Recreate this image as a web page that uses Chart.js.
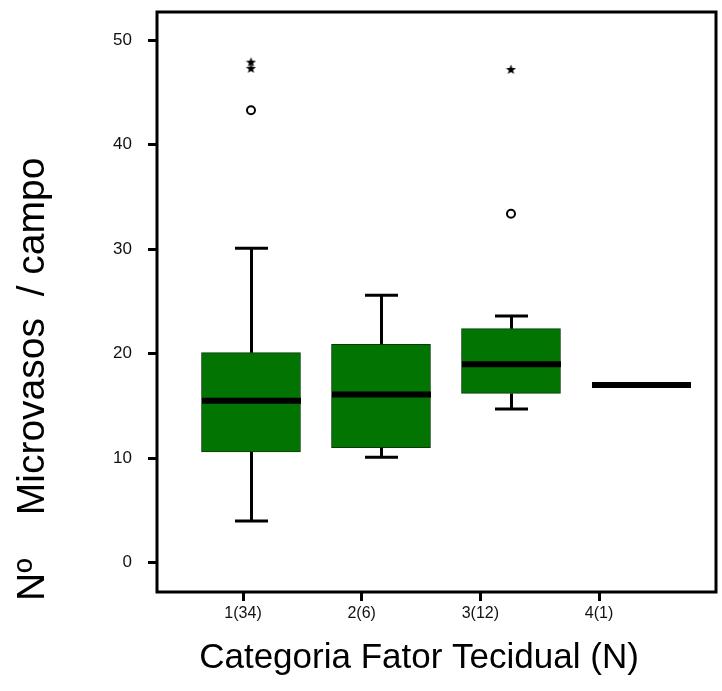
<!DOCTYPE html>
<html>
<head>
<meta charset="utf-8">
<script src="https://cdn.jsdelivr.net/npm/chart.js@4"></script>
<style>
  html, body { margin: 0; background: #fff; }
</style>
</head>
<body>
<canvas id="chart" width="722" height="691"></canvas>
<script>
// values
const categories = ['1(34)', '2(6)', '3(12)', '4(1)'];
const whiskerLow = [4.0, 10.1, 14.7, 17.0];
const q1 = [10.6, 11.0, 16.2, 17.0];
const median = [15.5, 16.1, 19.0, 17.0];
const q3 = [20.1, 20.9, 22.4, 17.0];
const whiskerHigh = [30.1, 25.6, 23.6, 17.0];
const outliers = [[43.3], [], [33.4], []];
const extremes = [[47.3, 47.9], [], [47.2], []];
const yTicks = [0, 10, 20, 30, 40, 50];

const xTitle = 'Categoria Fator Tecidual (N)';
const yTitle = 'Nº    Microvasos  / campo';
const FONT = 'Liberation Sans, Arial, sans-serif';

// filled star used for the extreme values
const star = document.createElement('canvas');
star.width = 11; star.height = 11;
(function () {
    const c = star.getContext('2d');
    c.fillStyle = '#000';
    c.beginPath();
    for (let k = 0; k < 10; k++) {
        const r = k % 2 === 0 ? 5.3 : 2.2;
        const a = -Math.PI / 2 + k * Math.PI / 5;
        c.lineTo(5.5 + r * Math.cos(a), 5.8 + r * Math.sin(a));
    }
    c.closePath();
    c.fill();
})();

const toPoints = (groups) => groups.flatMap((vals, i) => vals.map(v => ({ x: i + 1, y: v })));

// whiskers, caps, medians, frame and axis titles
const boxExtras = {
    id: 'boxExtras',
    afterDatasetsDraw(chart) {
        const ctx = chart.ctx;
        const xs = chart.scales.x, ys = chart.scales.y;
        const bars = chart.getDatasetMeta(0).data;
        ctx.save();
        ctx.strokeStyle = '#000';
        ctx.lineCap = 'butt';
        categories.forEach((c, i) => {
            const px = Math.round(xs.getPixelForValue(i + 1)) + 0.5;
            const half = bars[i].width / 2;
            ctx.lineWidth = 3;
            if (whiskerHigh[i] > q3[i]) {
                const top = ys.getPixelForValue(whiskerHigh[i]);
                ctx.beginPath();
                ctx.moveTo(px, ys.getPixelForValue(q3[i]));
                ctx.lineTo(px, top);
                ctx.moveTo(px - 16.5, top);
                ctx.lineTo(px + 16.5, top);
                ctx.stroke();
            }
            if (whiskerLow[i] < q1[i]) {
                const bot = ys.getPixelForValue(whiskerLow[i]);
                ctx.beginPath();
                ctx.moveTo(px, ys.getPixelForValue(q1[i]));
                ctx.lineTo(px, bot);
                ctx.moveTo(px - 16.5, bot);
                ctx.lineTo(px + 16.5, bot);
                ctx.stroke();
            }
            ctx.lineWidth = 6;
            const my = ys.getPixelForValue(median[i]);
            ctx.beginPath();
            ctx.moveTo(px - half, my);
            ctx.lineTo(px + half, my);
            ctx.stroke();
        });
        const a = chart.chartArea;
        ctx.lineWidth = 3;
        ctx.strokeRect(a.left, a.top, a.right - a.left, a.bottom - a.top);

        // axis titles
        ctx.fillStyle = '#000';
        ctx.textBaseline = 'middle';
        ctx.font = '35px ' + FONT;
        ctx.textAlign = 'center';
        ctx.fillText(xTitle, 419, 658);
        ctx.translate(33, 601);
        ctx.rotate(-Math.PI / 2);
        ctx.font = '39px ' + FONT;
        ctx.textAlign = 'left';
        ctx.fillText(yTitle, 0, 0);
        ctx.restore();
    }
};

new Chart(document.getElementById('chart'), {
    data: {
        datasets: [
            {
                type: 'bar',
                data: categories.map((c, i) => ({ x: i + 1, y: [q1[i], q3[i]] })),
                backgroundColor: '#017401',
                borderColor: '#0a3a0a',
                borderWidth: 1,
                borderSkipped: false,
                barThickness: 99,
                xAxisID: 'x'
            },
            {
                type: 'scatter',
                data: toPoints(outliers),
                pointStyle: 'circle',
                pointRadius: 4,
                pointBorderWidth: 2,
                pointBorderColor: '#000',
                pointBackgroundColor: '#fff',
                xAxisID: 'x'
            },
            {
                type: 'scatter',
                data: toPoints(extremes),
                pointStyle: star,
                xAxisID: 'x'
            }
        ]
    },
    options: {
        responsive: false,
        animation: false,
        layout: { padding: { top: 12, right: 6, left: 0, bottom: 0 } },
        plugins: { legend: { display: false }, tooltip: { enabled: false } },
        scales: {
            x: {
                type: 'linear',
                position: 'bottom',
                offset: false,
                min: 0.277,
                max: 4.577,
                afterFit: (s) => { s.height = 0; s.paddingLeft = 0; s.paddingRight = 0; },
                border: { display: false },
                grid: { display: false },
                ticks: { display: false }
            },
            xl: {
                type: 'linear',
                position: 'bottom',
                offset: false,
                min: 0.275,
                max: 4.986,
                afterBuildTicks: (s) => { s.ticks = categories.map((c, i) => ({ value: i + 1 })); },
                afterFit: (s) => { s.height = 99; s.paddingLeft = 0; s.paddingRight = 0; },
                border: { display: false },
                grid: { drawOnChartArea: false, drawTicks: true, tickLength: 9, tickWidth: 3, tickColor: '#000' },
                ticks: {
                    callback: (v) => categories[v - 1],
                    color: '#111',
                    font: { family: FONT, size: 16 },
                    padding: 3,
                    maxRotation: 0
                }
            },
            y: {
                type: 'linear',
                min: -2.8,
                max: 52.7,
                afterBuildTicks: (s) => { s.ticks = yTicks.map(v => ({ value: v })); },
                afterFit: (s) => { s.width = 157; s.paddingTop = 0; s.paddingBottom = 0; },
                border: { display: false },
                grid: { drawOnChartArea: false, drawTicks: true, tickLength: 9, tickWidth: 3, tickColor: '#000' },
                ticks: {
                    color: '#111',
                    font: { family: FONT, size: 17 },
                    padding: 16
                }
            }
        }
    },
    plugins: [boxExtras]
});
</script>
</body>
</html>
